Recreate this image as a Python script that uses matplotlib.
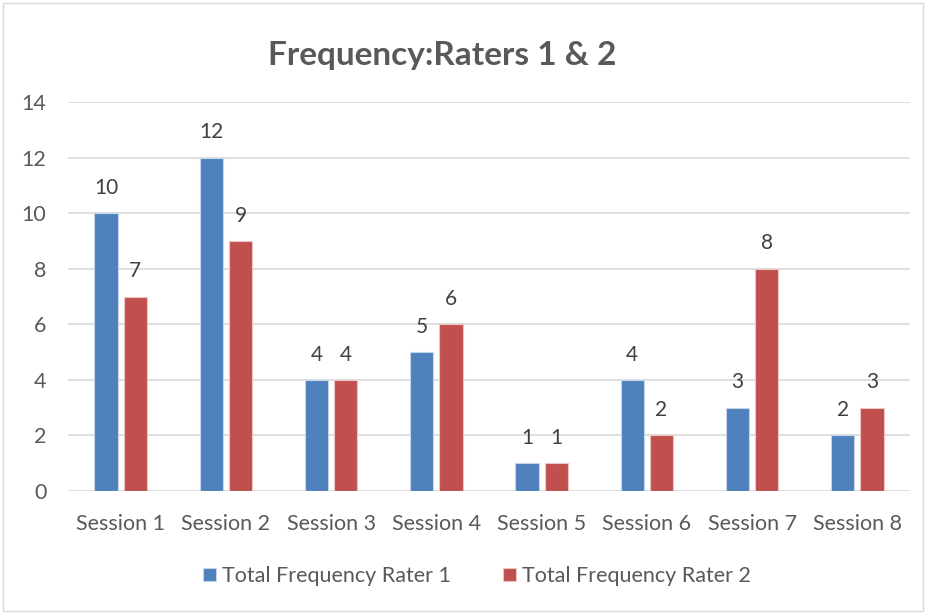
import matplotlib
matplotlib.use("Agg")
import matplotlib.pyplot as plt
import numpy as np
from matplotlib.patches import Rectangle

categories = ["Session 1", "Session 2", "Session 3", "Session 4",
              "Session 5", "Session 6", "Session 7", "Session 8"]
rater1 = [10, 12, 4, 5, 1, 4, 3, 2]
rater2 = [7, 9, 4, 6, 1, 2, 8, 3]
series_names = ["Total Frequency Rater 1", "Total Frequency Rater 2"]
yticks = [0, 2, 4, 6, 8, 10, 12, 14]

blue = "#4F81BD"
red = "#C0504D"
text_gray = "#595959"
label_gray = "#404040"
grid_gray = "#D9D9D9"

plt.rcParams["font.family"] = ["Lato", "DejaVu Sans"]

fig = plt.figure(figsize=(9.26, 6.14), dpi=100)
ax = fig.add_axes([68 / 926, 1 - 491 / 614, (910 - 68) / 926, (491 - 102) / 614])

x = np.arange(len(categories))
w = 0.22
gap = 0.057
off = (w + gap) / 2
b1 = ax.bar(x - off, rater1, w, color=blue, edgecolor="#C5D5EA", linewidth=0.8, label=series_names[0], zorder=3)
b2 = ax.bar(x + off, rater2, w, color=red, edgecolor="#EBC5C4", linewidth=0.8, label=series_names[1], zorder=3)

for bars, vals in ((b1, rater1), (b2, rater2)):
    for rect, v in zip(bars, vals):
        ax.annotate(str(v), (rect.get_x() + rect.get_width() / 2, v),
                    xytext=(0, 11), textcoords="offset points",
                    ha="center", va="bottom", fontsize=15, color=label_gray)

ax.set_xlim(-0.5, len(categories) - 0.5)
ax.set_ylim(0, 14)
ax.set_yticks(yticks)
ax.set_yticklabels([str(t) for t in yticks])
ax.set_xticks(x)
ax.set_xticklabels(categories)
ax.tick_params(axis="both", length=0, labelsize=15.5, colors=text_gray)
ax.tick_params(axis="y", pad=15.5)
ax.tick_params(axis="x", pad=16.5)
ax.yaxis.grid(True, color=grid_gray, linewidth=1.2, zorder=0)
ax.set_axisbelow(True)
for s in ax.spines.values():
    s.set_visible(False)

fig.text(442 / 926, 1 - 56 / 614, "Frequency:Raters 1 & 2", ha="center", va="center",
         fontsize=24, fontweight="bold", color=text_gray)

leg = fig.legend(handles=[b1, b2], labels=series_names, loc="center",
                 bbox_to_anchor=(477 / 926, 1 - 576 / 614), ncol=2, frameon=False,
                 fontsize=15.5, handlelength=0.6, handleheight=0.6,
                 handletextpad=0.3, columnspacing=2.4)
for t in leg.get_texts():
    t.set_color(text_gray)

fig.patches.append(Rectangle((3 / 926, 3 / 614), 1 - 6 / 926, 1 - 6 / 614,
                             transform=fig.transFigure, fill=False,
                             edgecolor="#D9D9D9", linewidth=1.0))

fig.savefig("out.png", dpi=100)
